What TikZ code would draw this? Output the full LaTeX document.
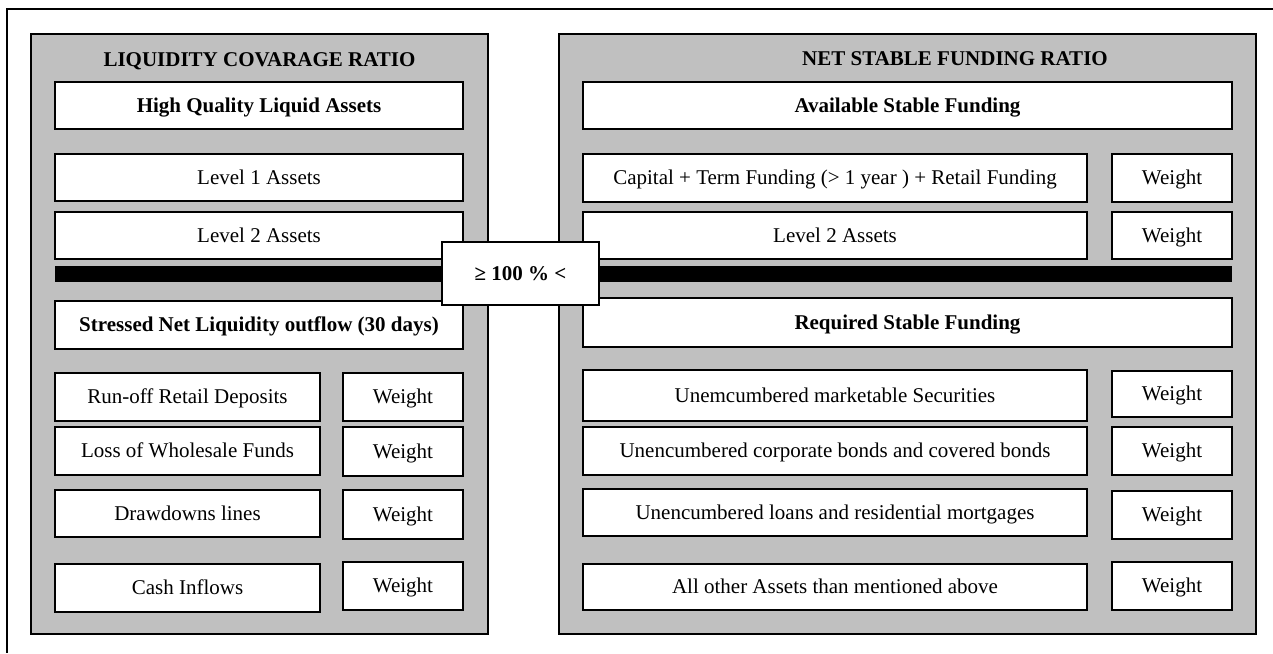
\documentclass[tikz,border=0pt]{standalone}
\usepackage{fontspec}
\setmainfont{Liberation Serif}
\definecolor{panelgray}{RGB}{192,192,192}

\begin{document}
\begin{tikzpicture}[x=0.5pt,y=-0.5pt,
    font=\fontsize{10.5}{12}\selectfont,
    panel/.style={draw=black, fill=panelgray, line width=1pt, inner sep=0pt},
    box/.style={draw=black, fill=white, line width=0.8pt, inner sep=0pt, text height=0.66em, text depth=0pt},
    item/.style={box, minimum width=252pt},
    itemleft/.style={box, minimum width=132.5pt},
    weight/.style={box, minimum width=60pt},
    ratiotitle/.style={font=\fontsize{10.5}{12}\selectfont\bfseries, inner sep=0pt, text height=0.66em, text depth=0pt}]
        \useasboundingbox (0,0) rectangle (1273,653);
        \draw[line width=1pt] (1273,9) -- (7,9) -- (7,653);   % outer frame

        % the two panels
        \node[panel, minimum width=228.5pt, minimum height=300pt] (lcr) at (259.5,334) {};
        \node[panel, minimum width=348.5pt, minimum height=300pt] (nsfr) at (907.5,334) {};
        \node[ratiotitle] (lcrtitle) at (259.5,60) {LIQUIDITY COVARAGE RATIO};
        \node[ratiotitle] (nsfrtitle) at (955,59) {NET STABLE FUNDING RATIO};

        % separator bar
        \node[fill=black, inner sep=0pt, minimum width=588.5pt, minimum height=8pt] (bar) at (643.5,274) {};

        % Liquidity coverage ratio
        \node[box, minimum width=204pt, minimum height=23.5pt] (hqla) at (259,105.5) {\textbf{High Quality Liquid Assets}};
        \node[box, minimum width=204pt, minimum height=23.5pt] (lvlone) at (259,177.5) {Level 1 Assets};
        \node[box, minimum width=204pt, minimum height=23.5pt] (lvltwo) at (259,235.5) {Level 2 Assets};
        \node[box, minimum width=204pt, minimum height=24pt] (outflow) at (259,325) {\textbf{Stressed Net Liquidity outflow (30 days)}};
        \node[itemleft, minimum height=24pt] (runoff) at (187.5,397) {Run-off Retail Deposits};
        \node[weight, minimum height=24pt] (wrunoff) at (403,397) {Weight};
        \node[itemleft, minimum height=24pt] (loss) at (187.5,451) {Loss of Wholesale Funds};
        \node[weight, minimum height=24.5pt] (wloss) at (403,451.5) {Weight};
        \node[itemleft, minimum height=23.5pt] (drawdown) at (187.5,513.5) {Drawdowns lines};
        \node[weight, minimum height=24.5pt] (wdrawdown) at (403,514.5) {Weight};
        \node[itemleft, minimum height=24pt] (inflow) at (187.5,588) {Cash Inflows};
        \node[weight, minimum height=24pt] (winflow) at (403,586) {Weight};

        % Net stable funding ratio
        \node[box, minimum width=324.5pt, minimum height=23.5pt] (asf) at (907.5,105.5) {\textbf{Available Stable Funding}};
        \node[item, minimum height=24pt] (capital) at (835,178) {Capital + Term Funding (> 1 year ) + Retail Funding};
        \node[weight, minimum height=24pt] (wcapital) at (1172,178) {Weight};
        \node[item, minimum height=23.5pt] (nlvltwo) at (835,235.5) {Level 2 Assets};
        \node[weight, minimum height=23.5pt] (wnlvltwo) at (1172,235.5) {Weight};
        \node[box, minimum width=324.5pt, minimum height=24.5pt] (rsf) at (907.5,322.5) {\textbf{Required Stable Funding}};
        \node[item, minimum height=25.5pt] (securities) at (835,395.5) {Unemcumbered marketable Securities};
        \node[weight, minimum height=23pt] (wsecurities) at (1172,394) {Weight};
        \node[item, minimum height=24pt] (bonds) at (835,451) {Unencumbered corporate bonds and covered bonds};
        \node[weight, minimum height=24pt] (wbonds) at (1172,451) {Weight};
        \node[item, minimum height=23.5pt] (loans) at (835,512.5) {Unencumbered loans and residential mortgages};
        \node[weight, minimum height=24pt] (wloans) at (1172,515) {Weight};
        \node[item, minimum height=23pt] (others) at (835,587) {All other Assets than mentioned above};
        \node[weight, minimum height=24pt] (wothers) at (1172,586) {Weight};

        % ratio in the middle
        \node[box, line width=1pt, minimum width=78.5pt, minimum height=31.5pt] (ratio) at (520.5,273.5) {\textbf{≥ 100 \% <}};
\end{tikzpicture}
\end{document}
